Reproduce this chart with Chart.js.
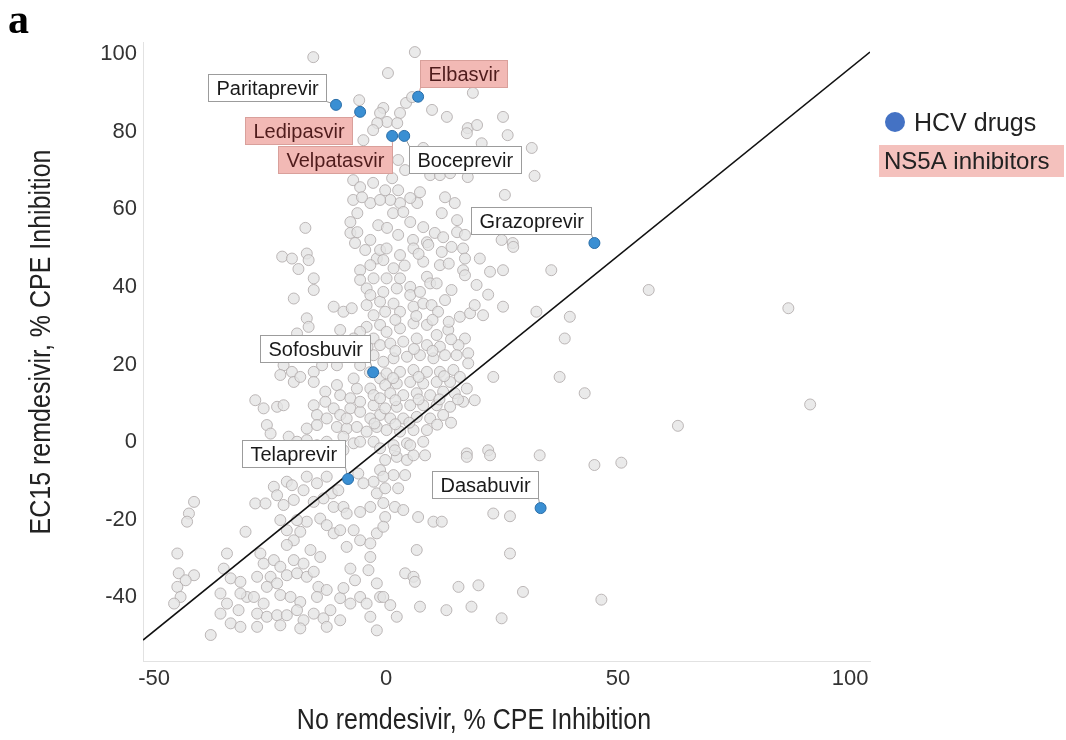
<!DOCTYPE html>
<html><head><meta charset="utf-8">
<script src="https://cdn.jsdelivr.net/npm/chart.js@4.4.1/dist/chart.umd.min.js"></script>
<style>html,body{margin:0;padding:0;background:#fff;}canvas{display:block;}</style>
</head><body>
<canvas id="c" width="1066" height="740"></canvas>
<script>
// ---------------- data ----------------
const xTickLabels = [-50, 0, 50, 100];
const yTickLabels = [-40, -20, 0, 20, 40, 60, 80, 100];

const hcvNames = ["Paritaprevir","Ledipasvir","Elbasvir","Velpatasvir","Boceprevir","Grazoprevir","Sofosbuvir","Telaprevir","Dasabuvir"];
const hcvX = [-10.8, -5.6, 6.9, 1.3, 3.9, 44.9, -2.8, -8.2, 33.3];
const hcvY = [86.9, 85.1, 89.0, 78.9, 78.9, 51.3, 18.0, -9.5, -17.0];
const hcvNS5A = [false, true, true, true, false, false, false, false, false];

const diagX = [-52.4, 104.3];
const diagY = [-51.0, 100.5];

const otherX = [
-15.7,6.2,0.4,-5.8,18.7,4.3,5.6,-0.6,9.9,13.1,3,0.2,2.4,25.2,17.6,19.6,17.4,26.2,-1.3,-1.9,-2.8,-4.9,
20.6,31.4,8,14.8,32,9.5,11.6,13.8,17.6,-7.1,-5.6,-2.8,4.1,1.3,
25.6,12.7,14.8,7.3,6.7,5.2,3,0.9,1.5,3.7,12,15.3,5.2,8,10.5,12.3,15.3,17,24.9,27.3,5.8,8.8,-7.1,-3.4,-1.3,-7.7,-6.2,-7.7,-6.2,-17.4,-3.4,-1.7,
2.6,-5.2,-0.2,2.6,0.2,2.6,-4.5,-6.7,
-22.4,-20.3,-17.1,-16.7,-18.9,-15.6,-15.6,-19.9,-5.6,-5.6,-4.2,-2.7,-2,-1.3,-11.3,-9.2,-7.4,-4.2,-2.7,-17.1,-16.7,-9.9,-4.2,-2.7,-19.2,-22.1,-20.3,-22.8,-19.9,-18.5,-15.6,-15.6,-13.8,-10.6,-13.1,-10.6,-9.9,-7.7,-6.3,-3.4,-1.3,-28.2,-26.4,-23.5,-22.1,-15.6,-14.9,-13.1,-11.3,-9.9,-7.7,-5.6,-2.7,-1.3,-25.7,-24.9,-17.1,-14.9,-10.6,-8.5,-6.3,-21,-19.2,-17.1,-12.8,-7,-2.7,-4.2,-2,-17.1,-7.7,-3.4,
-1.3,-3.4,-1.3,-5.6,-7,-2.7,-1.3,-5.6,-7,-5.6,-2.7,-1.3,-8.5,-3.4,-12.8,-9.2,-5.6,-14.9,-19.2,-9.2,-1.3,
0.1,3,5.9,9.1,12,14.1,16.6,20.2,22.4,25.2,27.4,35.6,39.6,38.5,37.4,42.8,32.4,25.2,23.1,17,16.6,17,14.1,11.6,8,8.8,9.5,10.9,5.2,5.2,2.3,0.1,1.6,3,5.9,8,9.8,11.2,12.7,15.9,18.1,19.1,20.9,13.4,17,15.6,17.7,17.7,15.2,10.9,8.8,5.9,3,0.1,0.9,3.7,6.6,8.8,11.6,12.7,10.2,7.3,4.5,1.6,-0.6,0.1,3,5.9,8.8,11.6,14.5,15.9,13.8,10.9,8,5.2,2.3,-0.2,0.9,3.7,6.6,9.5,12.3,14.8,17.4,19.1,16.6,13.8,10.9,8,5.2,2.3,-0.2,0.9,3.7,6.6,9.5,12.3,8.8,5.9,3,0.1,8,4.5,1.6,17.4,22,33.1,-0.6,1.6,3,-0.6,-0.2,7.3,
2,5,11,14,2,7,11.5,15.5,1.5,7,12.5,2,6,10,14,2,6.5,10,13.5,-2.5,-3.5,-4,4,7,13.5,19.5,22,
56.6,86.7,91.4,62.9,
-41.4,-42.5,-42.9,-45,-44.7,-41.4,-43.2,-45,-44.3,-45.7,-37.8,-30.3,-34.3,-35,-33.5,-31.4,-35.7,-34.3,-35.7,-33.5,-31.8,-30,-31.4,-28.2,-26,-24.2,-23.5,-21.4,-20.3,-22.1,-19.9,-17.8,-17.1,-14.9,-12.8,-11.7,-10.3,-13.5,-15.6,-11.3,-9.2,-8.5,-5.6,-3.4,-2,-2.7,-1.3,-4.9,-6,-14.2,-12.8,-11.3,-9.9,-17.1,-19.2,-22.8,-21.4,-18.5,-19.9,-21.4,-16.3,-14.2,-8.5,-7,-5.6,-3.4,-2,-3.4,-7.7,-3.8,-27.1,-26.4,-24.2,-22.8,-27.8,-24.9,-25.7,-23.5,-21.4,-19.2,-17.1,-19.9,-17.8,-15.6,-14.6,-14.9,-22.8,-20.6,-18.5,-28.5,-26.4,-27.8,-25.7,-23.5,-21.4,-19.2,-17.8,-15.6,-13.5,-12,-9.9,-12.8,-27.8,-31.4,-22.8,-18.5,-9.9,-7.7,-5.6,-4.2,-3.4,-2,-1.3,-2,-9.2,-6.7,-12.8,
-0.2,2.3,4.5,5.9,4.1,1.6,-0.6,2.6,-0.2,1.9,3.7,-0.2,-0.6,6.9,10.2,12,17.4,22.4,44.9,50.7,23.1,26.7,6.6,26.7,4.1,5.9,6.2,15.6,19.9,29.5,46.4,-0.6,0.9,2.3,7.3,13,18.4,24.9,-0.6,1.9,5.2,8.4
];
const otherY = [
99.2,100.5,95.1,88.1,90,87.4,88.9,86.1,85.6,83.8,84.8,82.5,82.2,83.8,80.9,81.7,79.6,79.1,84.8,82.2,80.4,77.8,
77,75.8,75.8,74,68.6,68.8,68.8,69.3,68.3,67.5,65.7,66.8,70.1,68,
63.7,63.1,61.6,64.4,61.6,62.9,61.6,62.4,59,59.3,59,57.2,56.7,55.4,53.9,52.8,54.1,53.4,52.1,51.3,52.1,51.5,62.4,61.6,62.4,56.7,59,53.9,54.1,55.2,52.1,55.9,
72.7,63.1,64.9,64.9,55.2,53.4,49.5,51.3,
47.8,47.3,48.6,46.9,44.6,42.2,39.2,37,44.3,41.8,39.6,42.2,47.3,49.5,34.9,33.6,34.5,35.3,32.7,31.9,29.7,28.9,29.7,26.7,28,19.8,18.1,17.3,15.5,16.8,18.1,15.5,19.8,19.8,13,14.7,12.1,11.3,13.8,13.8,16.4,10.8,8.7,9.1,9.5,9.5,7,10.4,8.7,7,8.7,7.8,9.5,7,4.4,2.2,3.5,4.4,3.9,3.5,3.9,1.4,0.1,0.5,0.1,-0.3,0.1,2.7,3.9,25,25,45.6,
36.2,37.9,30.2,28.4,26.7,22.4,25,19.8,16.4,10.4,12.1,11.3,6.1,6.1,6.1,1.4,0.1,-0.8,-2.5,-2.1,-1.6,
49.9,48.2,49.9,50.8,49,50.3,49.9,47.3,43.9,44.3,50.3,44.3,32.3,26.7,16.8,12.6,33.6,34.9,16.8,47.3,44.3,43,39.2,45.6,46.5,42.6,40.9,40.9,40,37.9,39.6,42.2,35.7,33.6,34.9,35.7,35.3,33.6,36.6,32.3,33.2,35.3,32.7,28.9,26.7,25,22.9,20.3,22.4,27.6,30.2,30.6,29.3,28.4,25.4,25.9,26.7,25,24.6,22.4,21.6,22.4,22,21.6,20.7,17.7,18.1,18.6,18.1,18.1,18.6,16.8,15.5,15.5,15.1,15.5,15.1,14.7,12.6,12.1,12.6,12.1,13,12.6,13.8,10.8,10.4,9.1,9.5,9.5,9.5,9.1,8.7,6.1,6.1,6.5,6.1,7,3.1,3.1,2.7,3.1,0.1,-0.3,-0.8,-2.9,-2.1,-3.4,46.9,44.8,42.2,38.7,33.6,38.7,
4.6,5,4.5,5,10.8,11,11,11,16.5,16.8,17,23.5,24,23.5,26.5,31.5,32.5,31.5,31,4.8,18,24.5,45.5,48.5,46,40.5,38,
39.2,34.5,9.7,4.2,
-15.4,-18.4,-20.5,-28.7,-33.8,-34.3,-35.6,-37.3,-39.9,-41.6,-49.7,-23.1,-28.7,-32.6,-35.1,-36,-39,-41.6,-44.2,-46.7,-43.3,-39.9,-39,-15.8,-15.8,-11.5,-13.7,-10.2,-11.1,-16.2,-14.9,-12.4,-8.9,-10.6,-8.9,-13.2,-12.4,-14.5,-15.4,-16.7,-16.7,-18.4,-18,-16.7,-13.2,-10.2,-7.2,-10.6,-8.1,-19.7,-21.4,-23.5,-22.7,-20.5,-20.1,-20.1,-22.7,-23.1,-25.3,-26.5,-27.8,-29.6,-27,-22.7,-25.3,-26.1,-23.5,-29.6,-32.6,-33,-28.7,-31.3,-30.4,-32.1,-34.7,-34.7,-37.3,-36.4,-34.3,-33.8,-34.7,-30.4,-31.3,-33.4,-37.3,-39.9,-39.4,-39.9,-41.2,-39.9,-41.6,-44.2,-45,-44.6,-44.6,-43.3,-45.9,-44.2,-45.4,-43.3,-45.9,-47.6,-47.6,-47.6,-47.2,-48,-40.2,-41.6,-39.9,-41.6,-45,-48.5,-39.9,-36.4,-37.6,-35.6,-38.1,
-4.6,-3.8,-4.6,-3.4,-8.5,-8.5,-8.9,-11.9,-11.9,-16.7,-17.5,-19.3,-21.8,-19.3,-20.5,-20.5,-3.8,-3.4,-5.9,-5.3,-18.4,-19.1,-27.8,-28.7,-33.8,-34.7,-36,-37.3,-36.9,-38.6,-40.6,-39.9,-42,-45,-42.4,-43.3,-42.4,-45.4,-15.7,-2.1,-0.8,-3.4
];

// ---------------- layout (pixels, not data) ----------------
const labelOffsets = {
  Paritaprevir:[-128,-31], Ledipasvir:[-115,5], Elbasvir:[2,-37], Velpatasvir:[-114,10],
  Boceprevir:[5,10], Grazoprevir:[-123,-36], Sofosbuvir:[-113,-37], Telaprevir:[-106,-39], Dasabuvir:[-109,-37]
};
const FONT = '"Liberation Sans", Arial, Helvetica, sans-serif';

function pts(xs, ys){ return xs.map((x,i)=>({x:x, y:ys[i]})); }

const annotPlugin = {
  id:'annot',
  afterDatasetDraw(chart, args){
    if (args.index !== 2) return;
    const ctx = chart.ctx, xs = chart.scales.x, ys = chart.scales.y;
    ctx.save();
    ctx.font = '20px ' + FONT;
    ctx.textBaseline = 'middle';
    hcvNames.forEach((n,i)=>{
      const px = xs.getPixelForValue(hcvX[i]), py = ys.getPixelForValue(hcvY[i]);
      const off = labelOffsets[n];
      const tw = ctx.measureText(n).width;
      const w = Math.round(tw + 16), h = 27;
      const bx = Math.round(px + off[0]) + 0.5, by = Math.round(py + off[1]) + 0.5;
      const corners = [[bx,by],[bx+w,by],[bx,by+h],[bx+w,by+h]];
      let best = corners[0], bd = 1e9;
      corners.forEach(c=>{const d=(c[0]-px)**2+(c[1]-py)**2; if(d<bd){bd=d;best=c;}});
      ctx.strokeStyle = hcvNS5A[i] ? '#d49a95' : '#9a9a9a';
      ctx.lineWidth = 1;
      ctx.beginPath(); ctx.moveTo(best[0],best[1]); ctx.lineTo(px,py); ctx.stroke();
      ctx.fillStyle = hcvNS5A[i] ? '#f2b9b5' : '#ffffff';
      ctx.fillRect(bx,by,w,h);
      ctx.strokeStyle = hcvNS5A[i] ? '#d9a09b' : '#9c9c9c';
      ctx.strokeRect(bx,by,w,h);
      ctx.fillStyle = hcvNS5A[i] ? '#4f1c1c' : '#1a1a1a';
      ctx.textAlign = 'left';
      ctx.fillText(n, bx + 8, by + h/2 + 1);
    });
    ctx.restore();
  },
  afterDraw(chart){
    const ctx = chart.ctx;
    ctx.save();
    ctx.fillStyle = '#222';
    ctx.textAlign = 'center'; ctx.textBaseline = 'middle';
    ctx.font = '25px ' + FONT;
    ctx.save(); ctx.translate(474, 721); ctx.scale(1, 1.2);
    ctx.fillText('No remdesivir, % CPE Inhibition', 0, 0); ctx.restore();
    ctx.save(); ctx.translate(42, 342); ctx.rotate(-Math.PI/2); ctx.scale(1, 1.2);
    ctx.fillText('EC15 remdesivir, % CPE Inhibition', 0, 0); ctx.restore();
    ctx.fillStyle = '#4472c4';
    ctx.beginPath(); ctx.arc(895, 122, 10, 0, Math.PI*2); ctx.fill();
    ctx.fillStyle = '#f4c1bd';
    ctx.fillRect(879, 145, 185, 32);
    ctx.fillStyle = '#222'; ctx.textAlign = 'left';
    ctx.font = '25px ' + FONT;
    ctx.fillText('HCV drugs', 914, 124);
    ctx.font = '24px ' + FONT;
    ctx.fillText('NS5A inhibitors', 884, 162);
    ctx.font = 'bold 42px "Liberation Serif", "Times New Roman", serif';
    ctx.textBaseline = 'alphabetic';
    ctx.fillStyle = '#000';
    ctx.fillText('a', 8, 33);
    ctx.restore();
  }
};

new Chart(document.getElementById('c'), {
  type: 'scatter',
  data: {
    datasets: [
      { label:'HCV drugs', data: pts(hcvX, hcvY), order:1,
        pointRadius:5.5, pointBorderWidth:1, backgroundColor:'#3a8fd3', borderColor:'#2a6ea8' },
      { label:'diag', type:'line', data: pts(diagX, diagY), order:2, showLine:true,
        pointRadius:0, borderColor:'#111', borderWidth:1.6, fill:false },
      { label:'Other', data: pts(otherX, otherY), order:3,
        pointRadius:5.5, pointBorderWidth:1, backgroundColor:'rgba(228,228,228,0.78)', borderColor:'rgba(178,172,172,0.85)' }
    ]
  },
  options: {
    responsive:false, animation:false, devicePixelRatio:1, events:[],
    layout:{ padding:{ left:0, top:42, right:196, bottom:0 } },
    plugins:{ legend:{display:false}, tooltip:{enabled:false} },
    scales:{
      x:{ type:'linear', min:-52.4, max:104.3,
        grid:{display:false, drawTicks:false},
        border:{display:true, color:'#e2e2e2', width:1},
        ticks:{ font:{size:22, family:FONT}, color:'#333', padding:5 },
        afterBuildTicks:(s)=>{ s.ticks = xTickLabels.map(v=>({value:v})); },
        afterFit:(s)=>{ s.height = 79; } },
      y:{ type:'linear', min:-56.4, max:103.1,
        grid:{display:false, drawTicks:false},
        border:{display:true, color:'#e2e2e2', width:1},
        ticks:{ font:{size:22, family:FONT}, color:'#333', padding:6 },
        afterBuildTicks:(s)=>{ s.ticks = yTickLabels.map(v=>({value:v})); },
        afterFit:(s)=>{ s.width = 143; } }
    }
  },
  plugins:[annotPlugin]
});
</script>
</body></html>
